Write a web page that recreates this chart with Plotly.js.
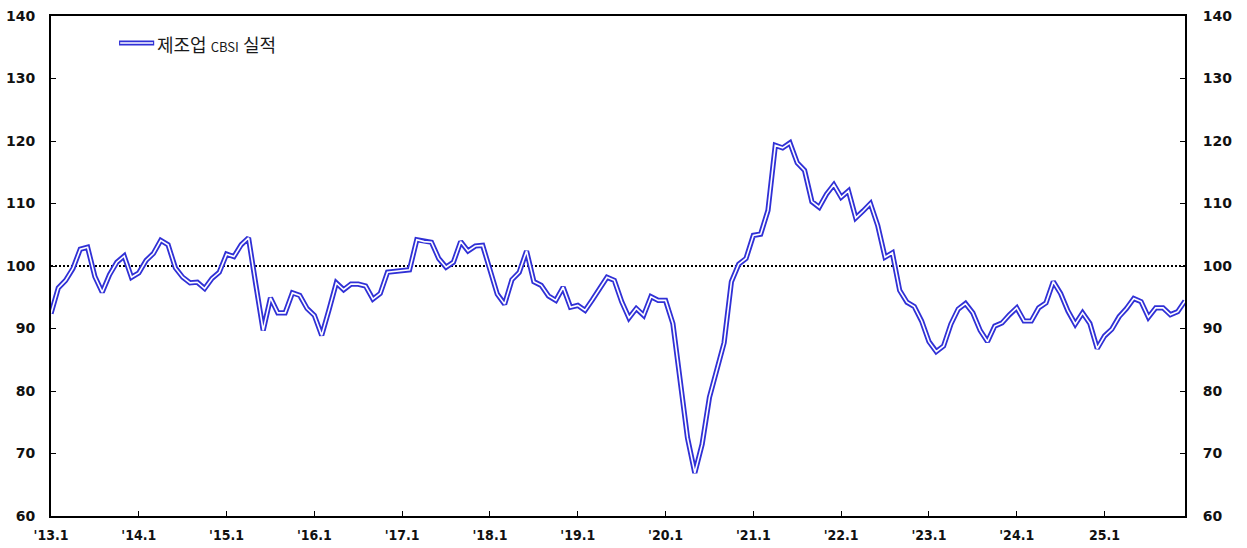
<!DOCTYPE html>
<html>
<head>
<meta charset="utf-8">
<script src="https://cdn.plot.ly/plotly-3.0.1.min.js"></script>
<style>
html,body{margin:0;padding:0;background:#fff;}
#chart{width:1247px;height:548px;}
</style>
</head>
<body>
<div id="chart"></div>
<script>
// Monthly manufacturing CBSI, 2013.1 - 2025.12
const years = ['2013','2014','2015','2016','2017','2018','2019','2020','2021','2022','2023','2024','2025'];
const tickLabels = ["'13.1","'14.1","'15.1","'16.1","'17.1","'18.1","'19.1","'20.1","'21.1","'22.1","'23.1","'24.1","25.1"];
const seriesName = '제조업 CBSI 실적';
const v2013 = [92.4, 96.5, 97.7, 99.6, 102.7, 103.0, 98.3, 95.8, 98.6, 100.6, 101.6, 98.2];
const v2014 = [98.9, 100.9, 102.0, 104.1, 103.4, 99.7, 98.2, 97.3, 97.4, 96.4, 98.0, 99.0];
const v2015 = [101.9, 101.5, 103.4, 104.5, 97.0, 89.7, 94.9, 92.5, 92.5, 95.7, 95.3, 93.2];
const v2016 = [92.1, 88.9, 93.0, 97.3, 96.2, 97.1, 97.1, 96.8, 94.7, 95.6, 99.0, 99.1];
const v2017 = [99.2, 99.4, 104.2, 103.9, 103.8, 101.2, 99.8, 100.6, 103.9, 102.4, 103.2, 103.3];
const v2018 = [99.4, 95.5, 93.9, 97.8, 99.0, 102.4, 97.5, 96.9, 95.2, 94.5, 96.6, 93.4];
const v2019 = [93.7, 92.9, 94.6, 96.4, 98.2, 97.7, 94.3, 91.7, 93.2, 92.1, 95.1, 94.5];
const v2020 = [94.5, 90.8, 82.0, 72.5, 66.9, 71.5, 79.0, 83.3, 87.7, 97.5, 100.3, 101.2];
const v2021 = [104.9, 105.1, 108.9, 119.3, 118.9, 119.7, 116.5, 115.3, 110.3, 109.4, 111.5, 113.0];
const v2022 = [111.0, 112.0, 107.7, 108.8, 110.0, 106.5, 101.4, 102.1, 96.1, 94.2, 93.5, 91.2];
const v2023 = [87.9, 86.3, 87.2, 90.7, 93.1, 94.0, 92.5, 89.7, 87.9, 90.4, 90.9, 92.2];
const v2024 = [93.3, 91.2, 91.2, 93.3, 94.1, 97.5, 95.6, 92.8, 90.7, 92.5, 90.8, 86.8];
const v2025 = [88.8, 89.9, 91.9, 93.2, 94.8, 94.3, 91.8, 93.3, 93.3, 92.2, 92.7, 94.4];
const refLevel = 100;

const values = [].concat(v2013, v2014, v2015, v2016, v2017, v2018, v2019, v2020, v2021, v2022, v2023, v2024, v2025);
const idx = values.map((_, i) => i);
const tickVals = tickLabels.map((_, k) => k * 12);

const blue = '#3030D6';
const tickFont = {family: 'Liberation Sans Narrow, DejaVu Sans Condensed, Arial Narrow, sans-serif', size: 14, color: '#111', weight: 700};
const yFont = {family: 'DejaVu Sans, Noto Sans, sans-serif', size: 14, color: '#111', weight: 700};

const traces = [
  {x: idx, y: values, type: 'scatter', mode: 'lines', name: seriesName, showlegend: false,
   line: {color: blue, width: 5.2}, hoverinfo: 'skip'},
  {x: idx, y: values, type: 'scatter', mode: 'lines', name: seriesName, showlegend: false, yaxis: 'y2',
   line: {color: '#ffffff', width: 1.6}}
];

const yTicks = [60, 70, 80, 90, 100, 110, 120, 130, 140];
const layout = {
  width: 1247, height: 548,
  margin: {l: 51, r: 62, t: 16, b: 32, pad: 0},
  paper_bgcolor: '#ffffff', plot_bgcolor: '#ffffff',
  showlegend: false,
  xaxis: {
    range: [0, values.length - 1], tickmode: 'array', tickvals: tickVals, ticktext: tickLabels,
    ticks: 'inside', ticklen: 5, tickwidth: 1, tickcolor: '#000',
    showgrid: false, zeroline: false, showline: true, linecolor: '#000', linewidth: 2, mirror: true,
    tickfont: tickFont, ticklabelstandoff: 5
  },
  yaxis: {
    range: [60, 140], tickmode: 'array', tickvals: yTicks,
    ticks: 'inside', ticklen: 5, tickwidth: 1, tickcolor: '#000',
    showgrid: false, zeroline: false, showline: true, linecolor: '#000', linewidth: 2, mirror: true,
    tickfont: yFont, ticklabelstandoff: 11
  },
  yaxis2: {
    range: [60, 140], tickmode: 'array', tickvals: yTicks, overlaying: 'y', side: 'right',
    ticks: 'inside', ticklen: 5, tickwidth: 1, tickcolor: '#000',
    showgrid: false, zeroline: false, showline: true, linecolor: '#000', linewidth: 2,
    tickfont: yFont, ticklabelstandoff: 13
  },
  shapes: [
    {type: 'line', xref: 'paper', x0: 0, x1: 1, yref: 'y', y0: refLevel, y1: refLevel,
     line: {color: '#000', width: 2, dash: '2px,2px'}, layer: 'below'},
    {type: 'line', xref: 'paper', yref: 'paper', x0: 0.060, x1: 0.091, y0: 0.946, y1: 0.946,
     line: {color: blue, width: 5.2}},
    {type: 'line', xref: 'paper', yref: 'paper', x0: 0.061, x1: 0.090, y0: 0.946, y1: 0.946,
     line: {color: '#ffffff', width: 1.6}}
  ],
  annotations: [
    {xref: 'paper', yref: 'paper', x: 0.0915, y: 0.944, xanchor: 'left', yanchor: 'middle', showarrow: false,
     text: '제조업 <span style="font-size:13px">CBSI</span> 실적',
     font: {family: 'Noto Sans CJK KR, sans-serif', size: 18, color: '#1a1a1a'}}
  ]
};

Plotly.newPlot('chart', traces, layout, {staticPlot: true, displayModeBar: false});
</script>
</body>
</html>
